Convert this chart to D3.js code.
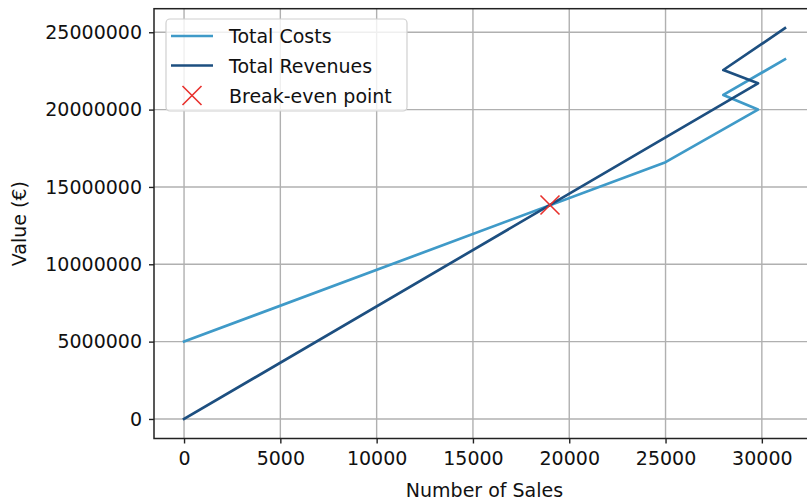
<!DOCTYPE html>
<html>
<head>
<meta charset="utf-8">
<script src="https://cdn.jsdelivr.net/npm/d3@7"></script>
<style>
  html, body { margin: 0; padding: 0; background: #fff; }
  svg { display: block; font-family: "DejaVu Sans", sans-serif; }
</style>
</head>
<body>
<svg id="chart" width="807" height="504"></svg>
<script>
// ---- data ----
const sales = [0, 25000, 29800, 28000, 31200];
const totalCosts = [5000000, 16600000, 20000000, 20950000, 23250000];
const totalRevenues = [0, 18200000, 21700000, 22560000, 25260000];
const breakEven = [19000, 13830000];
const xTicks = [0, 5000, 10000, 15000, 20000, 25000, 30000];
const yTicks = [0, 5000000, 10000000, 15000000, 20000000, 25000000];
const seriesNames = ["Total Costs", "Total Revenues", "Break-even point"];

const colCost = "#3f9ac8";
const colRev = "#1d4f80";
const colBE = "#e8302c";

(function () {
const svg = d3.select("#chart");
const pL = 154, pR = 815, pT = 8.7, pB = 438.5;

const xMin = d3.min(sales), xMax = d3.max(sales);
const xPad = (xMax - xMin) * 0.05;
const allY = totalCosts.concat(totalRevenues);
const yMin = d3.min(allY), yMax = d3.max(allY);
const yPad = (yMax - yMin) * 0.05;

const x = d3.scaleLinear().domain([xMin - xPad, xMax + xPad]).range([pL, pR]);
const y = d3.scaleLinear().domain([yMin - yPad, yMax + yPad]).range([pB, pT]);

// grid
const grid = svg.append("g");
grid.selectAll(".gx").data(xTicks).enter().append("line")
  .attr("x1", d => x(d)).attr("x2", d => x(d)).attr("y1", pT).attr("y2", pB)
  .attr("stroke", "#b0b0b0").attr("stroke-width", 1.4);
grid.selectAll(".gy").data(yTicks).enter().append("line")
  .attr("y1", d => y(d)).attr("y2", d => y(d)).attr("x1", pL).attr("x2", pR)
  .attr("stroke", "#b0b0b0").attr("stroke-width", 1.4);

// lines
const line = d3.line().x(d => x(d[0])).y(d => y(d[1]));
const costPts = sales.map((s, i) => [s, totalCosts[i]]);
const revPts = sales.map((s, i) => [s, totalRevenues[i]]);
svg.append("path").datum(costPts).attr("d", line).attr("fill", "none")
  .attr("stroke", colCost).attr("stroke-width", 2.7).attr("stroke-linejoin", "round").attr("stroke-linecap", "square");
svg.append("path").datum(revPts).attr("d", line).attr("fill", "none")
  .attr("stroke", colRev).attr("stroke-width", 2.7).attr("stroke-linejoin", "round").attr("stroke-linecap", "square");

// break-even marker
function xMarker(g, cx, cy, r) {
  g.append("path")
    .attr("d", `M${cx - r},${cy - r}L${cx + r},${cy + r}M${cx - r},${cy + r}L${cx + r},${cy - r}`)
    .attr("stroke", colBE).attr("stroke-width", 1.6).attr("fill", "none");
}
xMarker(svg, x(breakEven[0]), y(breakEven[1]), 9.5);

// axes
const xAxis = d3.axisBottom(x).tickValues(xTicks).tickFormat(d3.format("d")).tickSize(5).tickPadding(8);
const yAxis = d3.axisLeft(y).tickValues(yTicks).tickFormat(d3.format("d")).tickSize(5).tickPadding(7);
const gx = svg.append("g").attr("transform", `translate(0,${pB})`).call(xAxis);
const gy = svg.append("g").attr("transform", `translate(${pL},0)`).call(yAxis);
[gx, gy].forEach(g => {
  g.select(".domain").remove();
  g.selectAll(".tick line").attr("stroke", "#222").attr("stroke-width", 1.4);
  g.selectAll(".tick text").attr("fill", "#111").style("font-size", "19px").style("font-family", "DejaVu Sans");
});

// spines
svg.append("rect").attr("x", pL).attr("y", pT).attr("width", pR - pL).attr("height", pB - pT)
  .attr("fill", "none").attr("stroke", "#222").attr("stroke-width", 1.5);

// axis labels
svg.append("text").attr("x", (pL + pR) / 2).attr("y", 497).attr("text-anchor", "middle")
  .style("font-size", "19px").attr("fill", "#111").text("Number of Sales");
svg.append("text").attr("transform", `translate(26,${(pT + pB) / 2}) rotate(-90)`).attr("text-anchor", "middle")
  .style("font-size", "19px").attr("fill", "#111").text("Value (€)");

// legend
const lg = svg.append("g");
lg.append("rect").attr("x", 166).attr("y", 19).attr("width", 241).attr("height", 92).attr("rx", 4)
  .attr("fill", "#fff").attr("fill-opacity", 0.8).attr("stroke", "#d0d0d0").attr("stroke-width", 1.2);
const rowsY = [36, 65.5, 95.5];
[colCost, colRev].forEach((c, i) => {
  lg.append("line").attr("x1", 171).attr("x2", 213).attr("y1", rowsY[i]).attr("y2", rowsY[i])
    .attr("stroke", c).attr("stroke-width", 2.7);
});
xMarker(lg, 192, rowsY[2], 9.5);
seriesNames.forEach((n, i) => {
  lg.append("text").attr("x", 229).attr("y", rowsY[i] + 7).style("font-size", "19px").attr("fill", "#111").text(n);
});
})();
</script>
</body>
</html>
